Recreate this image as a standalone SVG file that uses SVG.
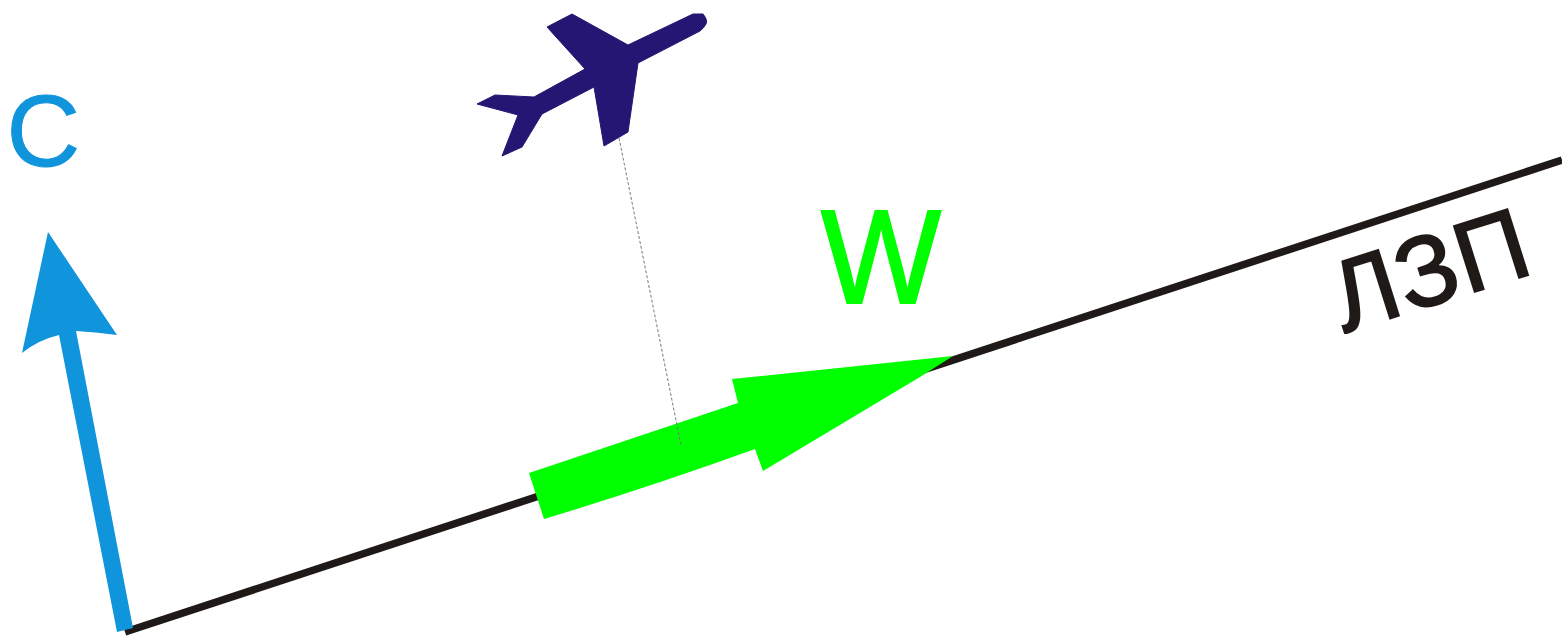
<svg xmlns="http://www.w3.org/2000/svg" width="1562" height="638" viewBox="0 0 1562 638">
<style>
text{font-family:"Liberation Sans",Arial,sans-serif}
.blue{fill:#1094dc}
.green{fill:#00ff00}
</style>
<rect width="1562" height="638" fill="#ffffff"/>
<g id="connectors">
<line id="track-line" x1="125" y1="632" x2="1562" y2="160" stroke="#1f1a17" stroke-width="7.5"/>
</g>
<g id="wind-arrow">
<path class="green" d="M529 473L738 403L732 379L953 356L920 377L763 471L755 449Q650 487 544 519Z"/>
</g>
<g id="course-arrow">
<path class="blue" d="M48 232L117 335Q95 332 76 331L133 628L117 632L59 335Q38 340 22 353Z"/>
</g>
<g id="plane">
<path fill="#241672" stroke="#241672" stroke-width="1" stroke-linejoin="round" d="M547 27L572 14L628 45L693 14L703 14Q708 20 706 24Q704 28 700 31L638 63L628 132L604 146L594 87L542 114L522 147L502 156L518 115L477 104L495 95L534 97L585 69Z"/>
</g>
<g id="drop-connector">
<line x1="619" y1="138" x2="681" y2="445" stroke="#77777f" stroke-width="1" stroke-dasharray="3 2"/>
</g>
<g id="label-c"><text class="blue" x="6.5" y="165.5" font-size="102" stroke="#1094dc" stroke-width="1">C</text></g>
<g id="label-w"><text class="green" x="821" y="303" font-size="133" textLength="120" lengthAdjust="spacingAndGlyphs" stroke="#00ff00" stroke-width="2">W</text></g>
<g id="label-track"><text x="1344" y="333" font-size="100" letter-spacing="1.5" fill="#1f1a17" stroke="#1f1a17" stroke-width="2" transform="rotate(-17.5 1344 333)">ЛЗП</text></g>
</svg>
